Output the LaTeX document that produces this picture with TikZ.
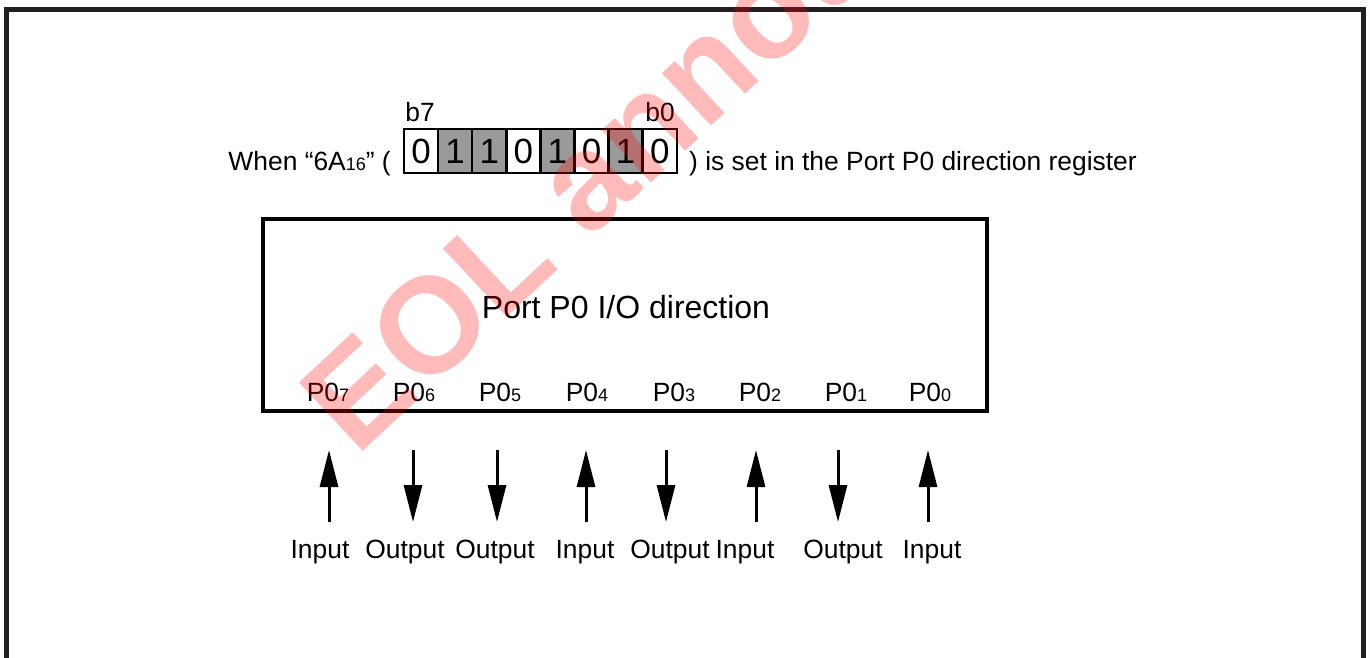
\documentclass[tikz,border=0pt]{standalone}
\usepackage{fontspec}
\setmainfont{Liberation Sans}
\usetikzlibrary{arrows.meta}
\definecolor{ink}{HTML}{231F20}
\definecolor{bitgray}{HTML}{9A9A9A}
\newcommand\subd[1]{{\fontsize{18}{18}\selectfont #1}}
\begin{document}
\begin{tikzpicture}[x=1pt,y=-1pt,
  txt/.style={inner sep=0pt, anchor=base, font=\fontsize{26.4}{30}\selectfont},
  bigtxt/.style={inner sep=0pt, anchor=base, font=\fontsize{32}{36}\selectfont},
  bit/.style={draw=black, line width=2.5pt, inner sep=0pt, minimum width=34.1pt,
    text height=34pt, text depth=10pt, font=\fontsize{35}{38}\selectfont},
  one/.style={bit, fill=bitgray},
  zero/.style={bit, fill=white},
  arr/.style={line width=3pt, -{Triangle[length=37pt,width=18pt]}},
  mark wm/.style={inner sep=0pt, text=red, text opacity=0.27,
    font=\fontsize{136}{140}\selectfont\bfseries, rotate=43}
]
\useasboundingbox (0,0) rectangle (1370,657);
\begin{scope}
\clip (0,0) rectangle (1370,657);
% outer frame
\draw[ink, line width=5pt] (6.5,700) -- (6.5,9.5) -- (1363.5,9.5) -- (1363.5,700);

% register line
\node[txt, anchor=base east] (when) at (391,170) {When “6A\subd{16}” (};
\node[zero] (c7) at (421.05,151) {0};
\node[one]  (c6) at (455.15,151) {1};
\node[one]  (c5) at (489.25,151) {1};
\node[zero] (c4) at (523.35,151) {0};
\node[one]  (c3) at (557.45,151) {1};
\node[zero] (c2) at (591.55,151) {0};
\node[one]  (c1) at (625.65,151) {1};
\node[zero] (c0) at (659.75,151) {0};
\node[txt] (b7) at (420,121) {b7};
\node[txt] (b0) at (660,121) {b0};
\node[txt, anchor=base west] (rest) at (689,170) {) is set in the Port P0 direction register};

% port box
\node[draw=black, line width=4pt, minimum width=724pt, minimum height=192pt, inner sep=0pt] (port) at (625,315) {};
\node[bigtxt] (title) at (626,318) {Port P0 I/O direction};
\foreach \n/\x in {7/328,6/414,5/500,4/587,3/674,2/760,1/846,0/930}{
  \node[txt] (p\n) at (\x,401) {P0\subd{\n}};
}

% arrows
\foreach \n/\x in {7/329,6/413,5/497,4/586,3/666,2/756,1/838,0/928}{
  \coordinate (t\n) at (\x,450);
  \coordinate (u\n) at (\x,522);
}
\draw[arr] (u7) -- (t7);
\draw[arr] (t6) -- (u6);
\draw[arr] (t5) -- (u5);
\draw[arr] (u4) -- (t4);
\draw[arr] (t3) -- (u3);
\draw[arr] (u2) -- (t2);
\draw[arr] (t1) -- (u1);
\draw[arr] (u0) -- (t0);

% labels
\node[txt] (l7) at (320,558) {Input};
\node[txt] (l6) at (405,558) {Output};
\node[txt] (l5) at (495,558) {Output};
\node[txt] (l4) at (585,558) {Input};
\node[txt] (l3) at (670,558) {Output};
\node[txt] (l2) at (745,558) {Input};
\node[txt] (l1) at (843,558) {Output};
\node[txt] (l0) at (932,558) {Input};

% watermark
\node[mark wm] (wm) at (705,66) {EOL announced};
\end{scope}
\end{tikzpicture}
\end{document}
